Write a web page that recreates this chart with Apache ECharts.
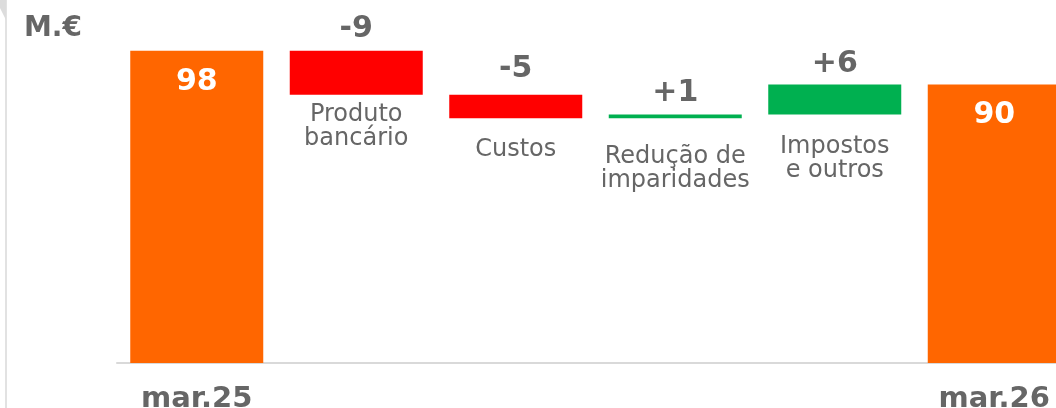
<!DOCTYPE html>
<html>
<head>
<meta charset="utf-8">
<script src="https://cdn.jsdelivr.net/npm/echarts@6/dist/echarts.min.js"></script>
<style>
    html, body { margin: 0; padding: 0; background: #fff; }
    #chart { width: 1056px; height: 408px; }
</style>
</head>
<body>
<div id="chart"></div>
<script>
// categorias do eixo x
const categories = ['mar.25', 'Produto\nbancário', 'Custos', 'Redução de\nimparidades', 'Impostos\ne outros', 'mar.26'];
// saldo inicial e final (M.€)
const totals = [97.6, 90.4];
// variações intermédias (M.€)
const changes = [-9.4, -5.0, 0.8, 6.4];

const ORANGE = '#FF6600';
const RED = '#FF0000';
const GREEN = '#00B050';
const GREY = '#666666';
const FONT = 'DejaVu Sans';

// distância entre a barra e o nome da categoria (por variação)
const nameGap = [8, 20, 27, 20];
// distância entre a barra e o valor (por variação)
const valueGap = [7, 11, 6, 5];

// montar as séries do waterfall (base invisível + barra visível)
let baseData = ['-'];
let barData = [{
    value: totals[0],
    itemStyle: { color: ORANGE },
    label: { position: 'insideTop', distance: 16, color: '#fff' }
}];
let level = totals[0];
changes.forEach((c, i) => {
    const low = Math.min(level, level + c);
    baseData.push({
        value: low,
        label: { show: true, position: 'insideTop', distance: nameGap[i] }
    });
    barData.push({
        value: Math.abs(c),
        itemStyle: { color: c < 0 ? RED : GREEN },
        label: { position: 'top', distance: valueGap[i], color: GREY }
    });
    level += c;
});
baseData.push('-');
barData.push({
    value: totals[1],
    itemStyle: { color: ORANGE },
    label: { position: 'insideTop', distance: 16, color: '#fff' }
});

function valueLabel(params) {
    const i = params.dataIndex;
    if (i === 0) return String(Math.round(totals[0]));
    if (i === categories.length - 1) return String(Math.round(totals[1]));
    const c = changes[i - 1];
    return (c > 0 ? '+' : '-') + Math.round(Math.abs(c));
}

const chart = echarts.init(document.getElementById('chart'));
chart.setOption({
    animation: false,
    title: {
        text: 'M.€',
        left: 24,
        top: 15,
        padding: 0,
        textStyle: { fontFamily: FONT, fontSize: 28, fontWeight: 'bold', color: GREY }
    },
    graphic: [
        {
            type: 'rect',
            shape: { x: 5, y: 0, width: 2, height: 408 },
            style: { fill: '#e2e2e2' },
            silent: true
        },
        {
            type: 'polygon',
            shape: { points: [[0, 0], [6, 0], [6, 20], [0, 8]] },
            style: { fill: '#dcdcdc' },
            silent: true
        }
    ],
    grid: {
        left: 117,
        top: 39.5,
        width: 957,
        height: 323.5,
        outerBoundsMode: 'none',
        containLabel: false
    },
    xAxis: {
        type: 'category',
        data: categories,
        axisLine: { show: true, lineStyle: { color: '#d9d9d9', width: 2 } },
        axisTick: { show: false },
        axisLabel: {
            interval: 0,
            margin: 22,
            fontFamily: FONT,
            fontSize: 29,
            fontWeight: 'bold',
            color: GREY,
            formatter: (v, i) => (i === 0 || i === categories.length - 1) ? v : ''
        },
        splitLine: { show: false }
    },
    yAxis: {
        type: 'value',
        min: 31,
        max: 100,
        show: false,
        splitLine: { show: false }
    },
    series: [
        {
            type: 'bar',
            stack: 'wf',
            barWidth: 133,
            silent: true,
            itemStyle: { color: 'transparent' },
            label: {
                show: false,
                formatter: (p) => categories[p.dataIndex],
                fontFamily: FONT,
                fontSize: 24,
                lineHeight: 24,
                color: GREY
            },
            emphasis: { disabled: true },
            data: baseData
        },
        {
            type: 'bar',
            stack: 'wf',
            barWidth: 133,
            silent: true,
            label: {
                show: true,
                formatter: valueLabel,
                fontFamily: FONT,
                fontSize: 30,
                fontWeight: 'bold'
            },
            emphasis: { disabled: true },
            data: barData
        }
    ]
});
</script>
</body>
</html>
